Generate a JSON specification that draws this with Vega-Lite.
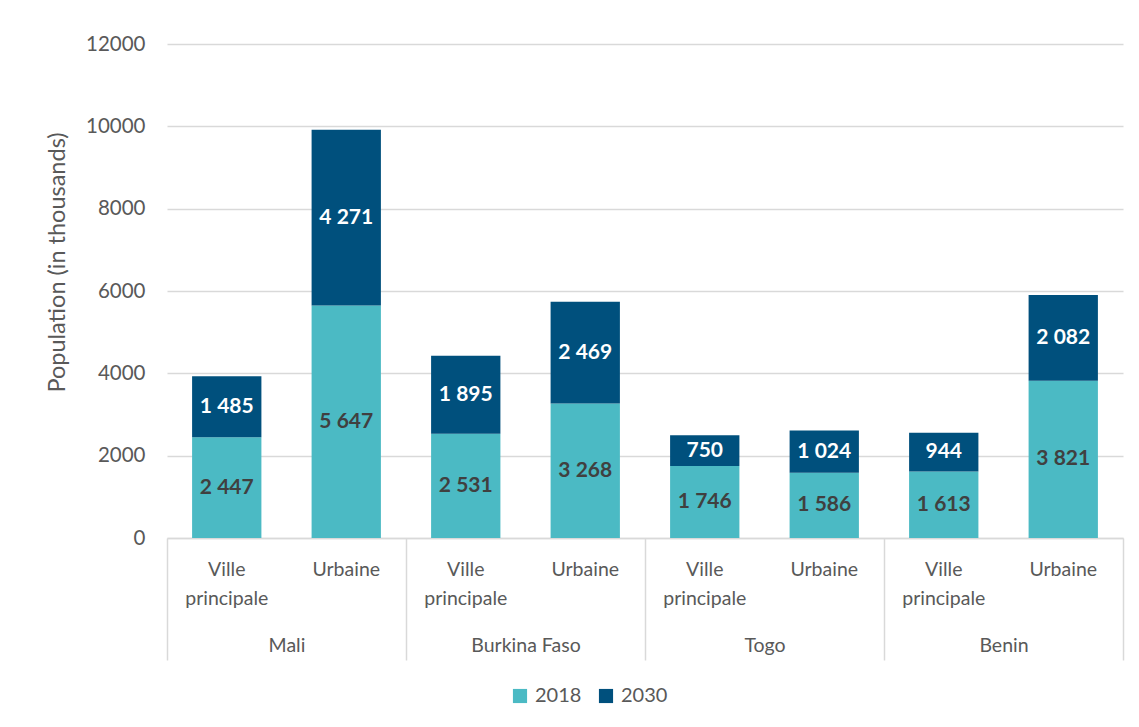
{
  "$schema": "https://vega.github.io/schema/vega-lite/v6.json",
  "width": 956,
  "height": 494,
  "autosize": {"type": "none"},
  "padding": {"left": 167, "top": 44, "right": 16, "bottom": 189},
  "background": "white",
  "config": {
    "view": {"stroke": null},
    "font": "Lato",
    "locale": {"number": {"decimal": ",", "thousands": " ", "grouping": [3], "currency": ["", ""]}}
  },
  "data": {
    "values": [
      {"key": "Mali|Ville principale", "country": "Mali", "type": "Ville principale", "year": "2018", "value": 2447},
      {"key": "Mali|Ville principale", "country": "Mali", "type": "Ville principale", "year": "2030", "value": 1485},
      {"key": "Mali|Urbaine", "country": "Mali", "type": "Urbaine", "year": "2018", "value": 5647},
      {"key": "Mali|Urbaine", "country": "Mali", "type": "Urbaine", "year": "2030", "value": 4271},
      {"key": "Burkina Faso|Ville principale", "country": "Burkina Faso", "type": "Ville principale", "year": "2018", "value": 2531},
      {"key": "Burkina Faso|Ville principale", "country": "Burkina Faso", "type": "Ville principale", "year": "2030", "value": 1895},
      {"key": "Burkina Faso|Urbaine", "country": "Burkina Faso", "type": "Urbaine", "year": "2018", "value": 3268},
      {"key": "Burkina Faso|Urbaine", "country": "Burkina Faso", "type": "Urbaine", "year": "2030", "value": 2469},
      {"key": "Togo|Ville principale", "country": "Togo", "type": "Ville principale", "year": "2018", "value": 1746},
      {"key": "Togo|Ville principale", "country": "Togo", "type": "Ville principale", "year": "2030", "value": 750},
      {"key": "Togo|Urbaine", "country": "Togo", "type": "Urbaine", "year": "2018", "value": 1586},
      {"key": "Togo|Urbaine", "country": "Togo", "type": "Urbaine", "year": "2030", "value": 1024},
      {"key": "Benin|Ville principale", "country": "Benin", "type": "Ville principale", "year": "2018", "value": 1613},
      {"key": "Benin|Ville principale", "country": "Benin", "type": "Ville principale", "year": "2030", "value": 944},
      {"key": "Benin|Urbaine", "country": "Benin", "type": "Urbaine", "year": "2018", "value": 3821},
      {"key": "Benin|Urbaine", "country": "Benin", "type": "Urbaine", "year": "2030", "value": 2082}
    ]
  },
  "layer": [
    {
      "layer": [
        {
          "mark": {"type": "bar"},
          "encoding": {
            "x": {
              "field": "key", "type": "nominal", "sort": null,
              "scale": {"paddingInner": 0.42, "paddingOuter": 0.21},
              "axis": {
                "title": null, "labelAngle": 0, "ticks": false, "tickSize": 0,
                "domainColor": "#d9d9d9", "domainWidth": 1.5,
                "labelPadding": 22, "labelFontSize": 19.5, "labelColor": "#595959",
                "labelLineHeight": 29, "labelFont": "Lato",
                "labelExpr": "split(split(datum.label, '|')[1], ' ')"
              }
            },
            "y": {
              "field": "value", "type": "quantitative", "stack": "zero",
              "scale": {"domain": [0, 12000], "nice": false},
              "axis": {
                "title": "Population (in thousands)", "format": "d",
                "values": [0, 2000, 4000, 6000, 8000, 10000, 12000],
                "domain": false, "ticks": false, "labelPadding": 22,
                "labelFontSize": 20.5, "labelColor": "#595959",
                "gridColor": "#d9d9d9", "gridWidth": 1.5,
                "titleFontSize": 23.5, "titleFontWeight": "normal", "titleColor": "#595959",
                "titleX": -110, "titleY": 218, "titleBaseline": "middle", "titleAlign": "center", "titleAngle": -90
              }
            },
            "color": {
              "field": "year", "type": "nominal",
              "scale": {"domain": ["2018", "2030"], "range": ["#4BBAC4", "#00507D"]},
              "legend": {
                "title": null, "orient": "none", "direction": "horizontal",
                "legendX": 343, "legendY": 642,
                "symbolType": "square", "symbolSize": 200, "symbolStrokeWidth": 0,
                "symbolOpacity": 1,
                "labelFontSize": 20, "labelColor": "#595959", "columnPadding": 14, "labelOffset": 5
              }
            },
            "order": {"field": "year", "type": "nominal", "sort": "ascending"}
          }
        },
        {
          "mark": {"type": "text", "fontSize": 21, "fontWeight": "bold", "font": "Lato"},
          "encoding": {
            "x": {"field": "key", "type": "nominal", "sort": null},
            "y": {"field": "value", "type": "quantitative", "stack": "zero", "bandPosition": 0.5},
            "text": {"field": "value", "type": "quantitative", "format": ",d"},
            "color": {
              "field": "year", "type": "nominal",
              "scale": {"domain": ["2018", "2030"], "range": ["#404040", "#ffffff"]},
              "legend": null
            },
            "order": {"field": "year", "type": "nominal", "sort": "ascending"}
          }
        }
      ],
      "resolve": {"scale": {"color": "independent"}}
    },
    {
      "mark": {"type": "tick", "opacity": 0},
      "encoding": {
        "x": {
          "field": "country", "type": "nominal", "sort": null,
          "scale": {"paddingInner": 0, "paddingOuter": 0},
          "axis": {
            "orient": "bottom", "title": null, "labelAngle": 0, "domain": false,
            "tickBand": "extent", "tickSize": 122, "tickColor": "#d9d9d9", "tickWidth": 1.5,
            "labelPadding": -24, "labelFontSize": 19.5, "labelColor": "#595959", "labelFont": "Lato"
          }
        },
        "y": {"datum": 0, "type": "quantitative"}
      }
    }
  ],
  "resolve": {"scale": {"x": "independent"}, "axis": {"x": "independent"}}
}
